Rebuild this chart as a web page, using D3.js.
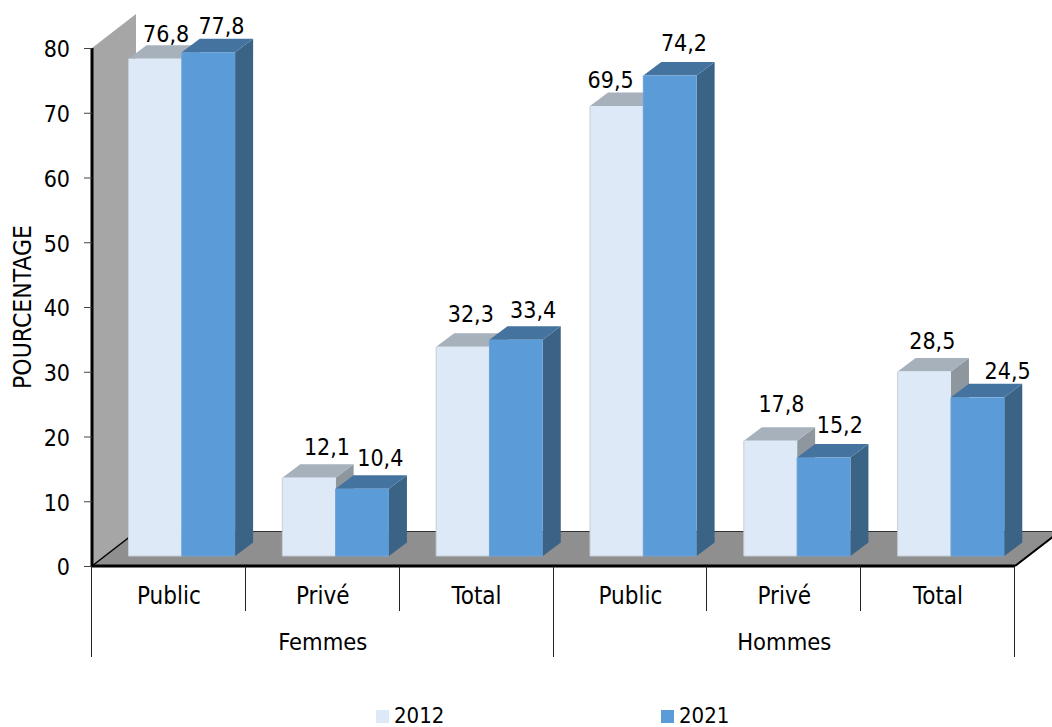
<!DOCTYPE html>
<html><head><meta charset="utf-8">
<script src="https://cdn.jsdelivr.net/npm/d3@7"></script>
<style>html,body{margin:0;background:#fff}svg{display:block}text{font-family:"DejaVu Sans Condensed","DejaVu Sans",sans-serif;fill:#000}</style>
</head><body><svg id="c" width="1052" height="727"></svg>
<script>
const categories = ["Public","Privé","Total","Public","Privé","Total"];
const groups = ["Femmes","Hommes"];
const years = ["2012","2021"];
const values2012 = [76.8,12.1,32.3,69.5,17.8,28.5];
const values2021 = [77.8,10.4,33.4,74.2,15.2,24.5];
const yTicks = [0,10,20,30,40,50,60,70,80];
// label nudges (layout)
const nudgeX2012 = [11,18,8,-6,11,8], nudgeY2012 = [17,23,25,18,29,22];
const nudgeX2021 = [13,18,17,14,16,30], nudgeY2021 = [18,23,22,25,25,18];

const svg = d3.select("#c");
const X0=92, X1=1015, Y0=566, Y80=48, DX=44, DY=34, BAR_DX=36.5, BAR_DY=10, SX=18, SY=13.5, FS=23;
const y = d3.scaleLinear().domain([0,80]).range([Y0,Y80]);
const x = d3.scaleBand().domain(d3.range(categories.length)).range([X0,X1]);
const inner = d3.scaleBand().domain(years).range([BAR_DX, BAR_DX+106.6]);
const poly = (g,pts,fill,stroke)=>g.append("polygon").attr("points",pts.map(p=>p.join(",")).join(" ")).attr("fill",fill).attr("stroke",stroke||"none");

// wall and floor
poly(svg,[[X0,Y0],[X0,Y80],[X0+DX,Y80-DY],[X0+DX,Y0-DY]],"#a6a6a6");
poly(svg,[[X0,Y0],[X0+DX,Y0-DY],[X1+DX,Y0-DY],[X1,Y0]],"#8f8f8f");
svg.append("line").attr("x1",X0).attr("y1",Y0).attr("x2",X0+DX).attr("y2",Y0-DY).attr("stroke","#000").attr("stroke-width",1.5);
svg.append("line").attr("x1",X0+DX).attr("y1",Y0-DY-0.5).attr("x2",X1+DX).attr("y2",Y0-DY-0.5).attr("stroke","#333").attr("stroke-width",1);
svg.append("line").attr("x1",X1).attr("y1",Y0).attr("x2",X1+DX).attr("y2",Y0-DY).attr("stroke","#000").attr("stroke-width",2);

// bars
const series = [
 {year:"2012",vals:values2012,front:"#dee9f7",top:"#a6b1bc",side:"#8e969e",edge:"#c4cdd6",nx:nudgeX2012,ny:nudgeY2012},
 {year:"2021",vals:values2021,front:"#5b9bd7",top:"#44739f",side:"#3a6386",edge:"#6ea3d6",nx:nudgeX2021,ny:nudgeY2021}
];
const bars = svg.append("g");
categories.forEach((c,i)=>{
  series.forEach(s=>{
    const l = x(i)+inner(s.year), w = inner.bandwidth(), b = Y0-BAR_DY, t = y(s.vals[i])-BAR_DY;
    poly(bars,[[l+w,t],[l+w+SX,t-SY],[l+w+SX,b-SY],[l+w,b]],s.side);
    poly(bars,[[l,t],[l+SX,t-SY],[l+w+SX,t-SY],[l+w,t]],s.top);
    bars.append("rect").attr("x",l).attr("y",t).attr("width",w).attr("height",b-t).attr("fill",s.front);
    bars.append("path").attr("d",`M${l},${t}V${b}H${l+w}`).attr("fill","none").attr("stroke",s.edge).attr("stroke-width",1);
  });
});
// labels
categories.forEach((c,i)=>{
  series.forEach(s=>{
    const l = x(i)+inner(s.year), w = inner.bandwidth(), t = y(s.vals[i])-BAR_DY;
    svg.append("text").attr("x",l+w/2+s.nx[i]).attr("y",t-s.ny[i]).attr("text-anchor","middle")
      .attr("font-size",FS).text(String(s.vals[i]).replace(".",","));
  });
});

// y axis
const ax = svg.append("g").attr("transform",`translate(${X0},0)`).call(d3.axisLeft(y).tickValues(yTicks).tickSize(8).tickPadding(14));
ax.selectAll("text").attr("font-size",FS).attr("dy","0.38em").style("font-family",'"DejaVu Sans Condensed"');
ax.select(".domain").attr("stroke-width",3).attr("stroke","#000").attr("d",`M0,${Y80}V${Y0}`);
ax.selectAll(".tick line").attr("stroke","#444");
svg.append("line").attr("x1",X0).attr("x2",X1).attr("y1",Y0).attr("y2",Y0).attr("stroke","#000").attr("stroke-width",3);
svg.append("text").attr("transform","translate(31,307) rotate(-90)").attr("text-anchor","middle").attr("font-size",24.5).text("POURCENTAGE");

// category axis
const sep = svg.append("g").attr("stroke","#222").attr("stroke-width",1);
d3.range(categories.length+1).forEach(i=>{
  const px = Math.round(i<categories.length ? x(i) : X1)-0.5;
  const long = i%3===0;
  sep.append("line").attr("x1",px).attr("x2",px).attr("y1",Y0).attr("y2",long?657:611);
});
categories.forEach((c,i)=>svg.append("text").attr("x",x(i)+x.bandwidth()/2).attr("y",604).attr("text-anchor","middle").attr("font-size",24).text(c));
groups.forEach((g,i)=>svg.append("text").attr("x",x(i*3+1)+x.bandwidth()/2).attr("y",650).attr("text-anchor","middle").attr("font-size",23.5).text(g));

// legend
const legendX = d3.scaleOrdinal().domain(years).range([376,661]);
years.forEach((yr,i)=>{
  svg.append("rect").attr("x",legendX(yr)).attr("y",710).attr("width",13).attr("height",13).attr("fill",series[i].front);
  svg.append("text").attr("x",legendX(yr)+18).attr("y",723).attr("font-size",22).text(yr);
});
</script></body></html>
